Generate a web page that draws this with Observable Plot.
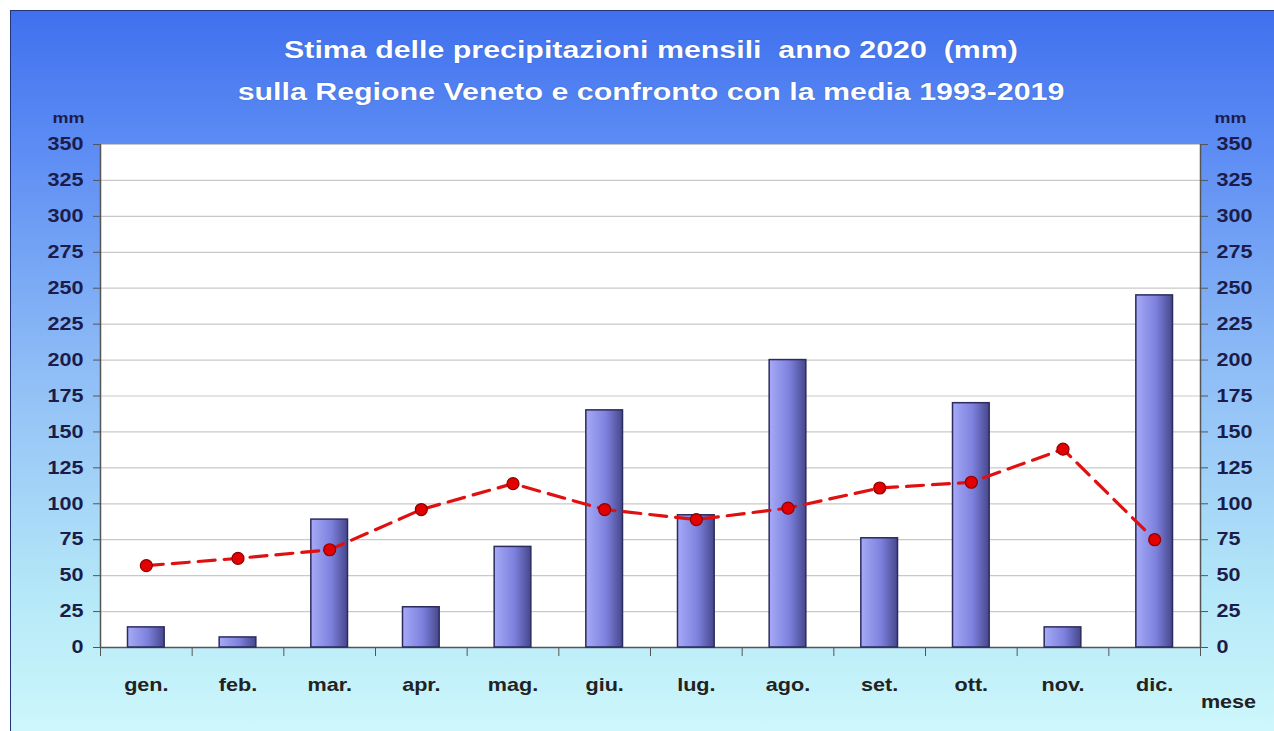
<!DOCTYPE html>
<html>
<head>
<meta charset="utf-8">
<script src="https://cdn.jsdelivr.net/npm/d3@7"></script>
<script src="https://cdn.jsdelivr.net/npm/@observablehq/plot@0.6"></script>
<style>
  html, body { margin: 0; padding: 0; background: #ffffff; width: 1274px; height: 731px; overflow: hidden; }
  #page { position: absolute; left: 10px; top: 10px; width: 1264px; height: 721px;
    background: linear-gradient(to bottom, #4070ee 0%, #5e8ef4 20%, #8fbdf6 50%, #b6e9f8 82%, #cdf7fb 100%);
    border-top: 1px solid #23357a; border-left: 1px solid #23357a; box-sizing: border-box; }
  .title { position: absolute; left: 14px; width: 1274px; text-align: center; color: #ffffff;
    font-family: "Liberation Sans", Arial, sans-serif; font-weight: bold; font-size: 23px;
    transform: scaleX(1.32); transform-origin: 50% 50%;
    text-shadow: 0 0 1px rgba(30,40,90,0.5); }
  #chart { position: absolute; left: 0; top: 100px; }
</style>
</head>
<body>
<div id="page"></div>
<div class="title" style="top:37px">Stima delle precipitazioni mensili&nbsp; anno 2020&nbsp; (mm)</div>
<div class="title" style="top:79px">sulla Regione Veneto e confronto con la media 1993-2019</div>
<div id="chart"></div>
<script>
const months = ["gen.", "feb.", "mar.", "apr.", "mag.", "giu.", "lug.", "ago.", "set.", "ott.", "nov.", "dic."];
const rain2020 = [14, 7, 89, 28, 70, 165, 92, 200, 76, 170, 14, 245];
const mean19932019 = [57, 62, 68, 96, 114, 96, 89, 97, 111, 115, 138, 75];
const yTicks = d3.range(0, 351, 25);

const chart = Plot.plot({
  width: 1274,
  height: 631,
  marginLeft: 100,
  marginRight: 74,
  marginTop: 44,
  marginBottom: 84,
  style: { fontFamily: "'Liberation Sans', Arial, sans-serif", fontSize: "18px", fontWeight: "bold", background: "transparent", overflow: "visible" },
  x: { type: "linear", domain: [0, 12], axis: null },
  y: { domain: [0, 350], axis: null },
  marks: [
    Plot.frame({ fill: "white", stroke: null }),
    Plot.gridY(yTicks, { stroke: "#c9c9c9", strokeOpacity: 1, strokeWidth: 1.2 }),
    Plot.axisY(yTicks, { anchor: "left", tickSize: 7, tickPadding: 10, stroke: "#555", fill: "#1c1c4a", label: null, fontWeight: "bold" }),
    Plot.axisY(yTicks, { anchor: "right", tickSize: 7, tickPadding: 9, stroke: "#555", fill: "#1c1c4a", label: null, fontWeight: "bold" }),
    Plot.axisX(d3.range(13), { anchor: "bottom", tickSize: 9, tickFormat: () => "", stroke: "#555", label: null }),
    Plot.axisX(d3.range(12).map(i => i + 0.5), { anchor: "bottom", tickSize: 0, tickPadding: 31, tickFormat: d => months[Math.floor(d)], fill: "#222", label: null, fontWeight: "bold" }),
    Plot.ruleX([0, 12], { y1: 0, y2: 350, stroke: "#555", strokeWidth: 1.5 }),
    Plot.ruleY([0], { stroke: "#555", strokeWidth: 1.5 }),
    Plot.rectY(rain2020, { x1: (d, i) => i, x2: (d, i) => i + 1, y1: 0, y2: d => d, insetLeft: 27.5, insetRight: 27.5, fill: "url(#barGrad)", stroke: "#2b2b5e", strokeWidth: 1.5 }),
    Plot.line(mean19932019, { x: (d, i) => i + 0.5, y: d => d, stroke: "#e01010", strokeWidth: 3.2, strokeDasharray: "17,9" }),
    Plot.dot(mean19932019, { x: (d, i) => i + 0.5, y: d => d, r: 6, fill: "#e30000", stroke: "#8a0000", strokeWidth: 1.2 }),
    Plot.text(["mm"], { frameAnchor: "top-left", textAnchor: "middle", lineAnchor: "middle", dx: -32, dy: -26, fontSize: 15, fill: "#1c1c4a", fontWeight: "bold" }),
    Plot.text(["mm"], { frameAnchor: "top-right", textAnchor: "middle", lineAnchor: "middle", dx: 30, dy: -26, fontSize: 15, fill: "#1c1c4a", fontWeight: "bold" }),
    Plot.text(["mese"], { frameAnchor: "bottom-right", textAnchor: "middle", lineAnchor: "middle", dx: 28, dy: 55, fontSize: 18, fill: "#222", fontWeight: "bold" })
  ]
});

const ns = "http://www.w3.org/2000/svg";
const defs = document.createElementNS(ns, "defs");
defs.innerHTML = `<linearGradient id="barGrad" x1="0" y1="0" x2="1" y2="0">
  <stop offset="0%" stop-color="#a6aaf7"/>
  <stop offset="55%" stop-color="#7d81dd"/>
  <stop offset="100%" stop-color="#46478c"/>
</linearGradient>`;
chart.insertBefore(defs, chart.firstChild);

// widen the lettering horizontally around each text's anchor, as in the reference
chart.querySelectorAll("text").forEach(t => {
  const x = parseFloat(t.getAttribute("x")) || 0;
  const tr = t.getAttribute("transform") || "";
  t.setAttribute("transform", `${tr} translate(${x},0) scale(1.2,1) translate(${-x},0)`);
});
document.getElementById("chart").appendChild(chart);
</script>
</body>
</html>
